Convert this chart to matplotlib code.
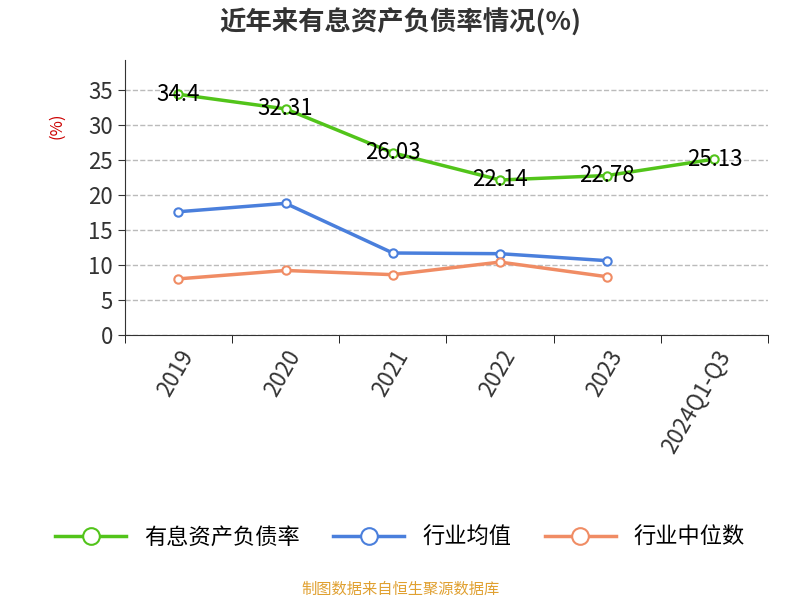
import matplotlib.pyplot as plt
import numpy as np

plt.rcParams['font.family'] = ['Noto Sans CJK SC', 'DejaVu Sans']

categories = ["2019", "2020", "2021", "2022", "2023", "2024Q1-Q3"]
debt_ratio = [34.4, 32.31, 26.03, 22.14, 22.78, 25.13]
industry_avg = [17.6, 18.8, 11.7, 11.6, 10.6]
industry_median = [8.0, 9.2, 8.6, 10.4, 8.3]

fig = plt.figure(figsize=(8, 6), dpi=100)
ax = fig.add_axes([0.156, 0.442, 0.804, 0.458])

x = np.arange(len(categories))
green, blue, orange = "#52c41a", "#4a7fdc", "#f08c64"

ax.plot(x, debt_ratio, color=green, lw=2.5, marker="o", ms=6,
        mfc="white", mec=green, mew=1.5, label="有息资产负债率", zorder=3)
ax.plot(x[:5], industry_avg, color=blue, lw=2.5, marker="o", ms=6,
        mfc="white", mec=blue, mew=1.5, label="行业均值", zorder=3)
ax.plot(x[:5], industry_median, color=orange, lw=2.5, marker="o", ms=6,
        mfc="white", mec=orange, mew=1.5, label="行业中位数", zorder=3)

for xi, v in zip(x, debt_ratio):
    ax.text(xi, v, f"{v:g}", ha="center", va="center", fontsize=16,
            color="black", zorder=4)

ax.set_xlim(-0.5, 5.5)
ax.set_ylim(0, 39.3)
ax.set_yticks(range(0, 36, 5))
ax.tick_params(axis="y", labelsize=16, colors="#333333", length=5)
ax.set_xticks(x)
ax.set_xticklabels(categories, rotation=60, fontsize=16, color="#333333")
ax.tick_params(axis="x", length=0, pad=8)
ax.set_xticks(np.arange(-0.5, 6, 1), minor=True)
ax.tick_params(axis="x", which="minor", length=6)
for t in ax.get_xticklabels():
    t.set_ha("right")
    t.set_rotation_mode("anchor")

ax.grid(axis="y", ls="--", color="#bbbbbb", lw=1)
for s in ["top", "right"]:
    ax.spines[s].set_visible(False)
ax.spines["left"].set_color("#333333")
ax.spines["bottom"].set_color("#333333")

ax.text(-0.105, 0.76, "(%)", transform=ax.transAxes, rotation=90,
        color="#cc0000", fontsize=12, va="center", ha="center")

fig.text(0.5, 0.962, "近年来有息资产负债率情况(%)", ha="center", va="center",
         fontsize=19, fontweight="bold", color="#333333")

fig.legend(loc="center", bbox_to_anchor=(0.5, 0.105), ncol=3, frameon=False,
           fontsize=16, handlelength=3.2, markerscale=2, columnspacing=1.5)

fig.text(0.5, 0.018, "制图数据来自恒生聚源数据库", ha="center", va="center",
         fontsize=11, color="#e0a030")

fig.savefig("out.png", dpi=100)
